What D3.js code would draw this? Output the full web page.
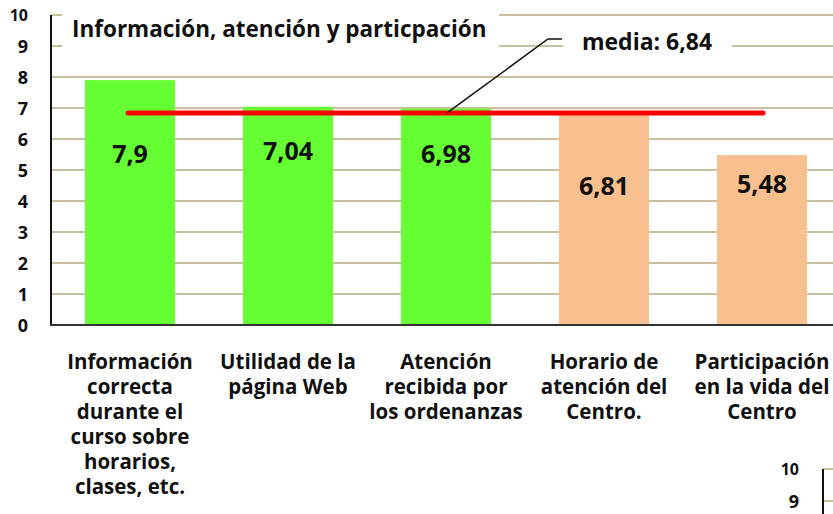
<!DOCTYPE html>
<html>
<head>
<meta charset="utf-8">
<script src="https://cdn.jsdelivr.net/npm/d3@7"></script>
<style>
  body { margin: 0; background: #fff; }
  svg { display: block; font-family: "Open Sans", sans-serif; font-weight: bold; }
</style>
</head>
<body>
<div class="content"></div>
<script>
// data
var categories = [
    ["Información", "correcta", "durante el", "curso sobre", "horarios,", "clases, etc."],
    ["Utilidad de la", "página Web"],
    ["Atención", "recibida por", "los ordenanzas"],
    ["Horario de", "atención del", "Centro."],
    ["Participación", "en la vida del", "Centro"]
];
var values = [7.9, 7.04, 6.98, 6.81, 5.48];
var valueLabels = ["7,9", "7,04", "6,98", "6,81", "5,48"];
var barColors = ["#66ff33", "#66ff33", "#66ff33", "#f8c08f", "#f8c08f"];
var labelAt = [5.45, 5.55, 5.45, 4.4, 4.47];   // where the value text sits, in data units
var mean = 6.84;
var meanLabel = "media: 6,84";
var title = "Información, atención y particpación";
var yTicks = [0, 1, 2, 3, 4, 5, 6, 7, 8, 9, 10];

var W = 833, H = 514;
var gridColor = "#c9c0a0";

var svg = d3.select('.content').append('svg')
    .attr('width', W)
    .attr('height', H);

var x = d3.scaleBand()
    .domain(d3.range(values.length))
    .range([51, 841])
    .paddingInner(0.43)
    .paddingOuter(0.215);

var y = d3.scaleLinear()
    .domain([0, 10])
    .range([325, 15]);

// grid
svg.append('g').selectAll('line')
    .data(yTicks.slice(1))
    .enter().append('line')
    .attr('x1', 51)
    .attr('x2', W)
    .attr('y1', function(d) { return y(d); })
    .attr('y2', function(d) { return y(d); })
    .attr('stroke', gridColor)
    .attr('stroke-width', 2);

// bars
svg.append('g').selectAll('rect')
    .data(values)
    .enter().append('rect')
    .attr('x', function(d, i) { return x(i); })
    .attr('y', function(d) { return y(d); })
    .attr('width', x.bandwidth())
    .attr('height', function(d) { return y(0) - y(d); })
    .attr('fill', function(d, i) { return barColors[i]; });

// axes lines
svg.append('line')
    .attr('x1', 51).attr('x2', 51)
    .attr('y1', y(10)).attr('y2', y(0) + 1)
    .attr('stroke', '#111').attr('stroke-width', 2);
svg.append('line')
    .attr('x1', 50).attr('x2', W)
    .attr('y1', y(0)).attr('y2', y(0))
    .attr('stroke', '#333').attr('stroke-width', 2);

// y tick labels
svg.append('g').selectAll('text')
    .data(yTicks)
    .enter().append('text')
    .attr('x', 28)
    .attr('y', function(d) { return y(d) + 2; })
    .attr('text-anchor', 'end')
    .attr('dominant-baseline', 'middle')
    .attr('font-size', function(d) { return d === 10 ? 16 : 18; })
    .attr('fill', '#111')
    .text(function(d) { return d; });

// value labels
svg.append('g').selectAll('text')
    .data(valueLabels)
    .enter().append('text')
    .attr('x', function(d, i) { return x(i) + x.bandwidth() / 2; })
    .attr('y', function(d, i) { return y(labelAt[i]); })
    .attr('text-anchor', 'middle')
    .attr('dominant-baseline', 'middle')
    .attr('font-size', 25)
    .attr('fill', '#111')
    .text(function(d) { return d; });

// category labels
categories.forEach(function(lines, i) {
    var t = svg.append('text')
        .attr('text-anchor', 'middle')
        .attr('font-size', 20.5)
        .attr('fill', '#111');
    lines.forEach(function(s, j) {
        t.append('tspan')
            .attr('x', x(i) + x.bandwidth() / 2)
            .attr('y', 369 + j * 25)
            .text(s);
    });
});

// mean line
var mx1 = x(0) + x.bandwidth() / 2 - 2;
var mx2 = x(values.length - 1) + x.bandwidth() / 2 + 1;
svg.append('line')
    .attr('x1', mx1).attr('x2', mx2)
    .attr('y1', y(mean)).attr('y2', y(mean))
    .attr('stroke', '#ff0000')
    .attr('stroke-width', 5)
    .attr('stroke-linecap', 'round');

// title box
svg.append('rect')
    .attr('x', 62).attr('y', 8)
    .attr('width', 437).attr('height', 46)
    .attr('fill', '#fff');
svg.append('text')
    .attr('x', 72).attr('y', 31)
    .attr('dominant-baseline', 'middle')
    .attr('font-size', 22.5)
    .attr('fill', '#111')
    .text(title);

// mean label box + leader
svg.append('rect')
    .attr('x', 563).attr('y', 30)
    .attr('width', 169).attr('height', 30)
    .attr('fill', '#fff');
svg.append('text')
    .attr('x', 647).attr('y', 44)
    .attr('text-anchor', 'middle')
    .attr('dominant-baseline', 'middle')
    .attr('font-size', 23)
    .attr('fill', '#111')
    .text(meanLabel);
svg.append('polyline')
    .attr('points', [[447, y(mean)], [548, 39], [562, 39]].join(' '))
    .attr('fill', 'none')
    .attr('stroke', '#111')
    .attr('stroke-width', 1.5);

// next chart peeking in at the bottom right
var y2 = d3.scaleLinear().domain([9, 10]).range([501, 469]);
svg.append('g').selectAll('line')
    .data([10, 9])
    .enter().append('line')
    .attr('x1', 823).attr('x2', W)
    .attr('y1', function(d) { return y2(d); })
    .attr('y2', function(d) { return y2(d); })
    .attr('stroke', gridColor)
    .attr('stroke-width', 2);
svg.append('line')
    .attr('x1', 823).attr('x2', 823)
    .attr('y1', y2(10)).attr('y2', H)
    .attr('stroke', '#111').attr('stroke-width', 2);
svg.append('g').selectAll('text')
    .data([10, 9])
    .enter().append('text')
    .attr('x', 799)
    .attr('y', function(d) { return y2(d) + 2; })
    .attr('text-anchor', 'end')
    .attr('dominant-baseline', 'middle')
    .attr('font-size', function(d) { return d === 10 ? 16 : 18; })
    .attr('fill', '#111')
    .text(function(d) { return d; });
</script>
</body>
</html>
